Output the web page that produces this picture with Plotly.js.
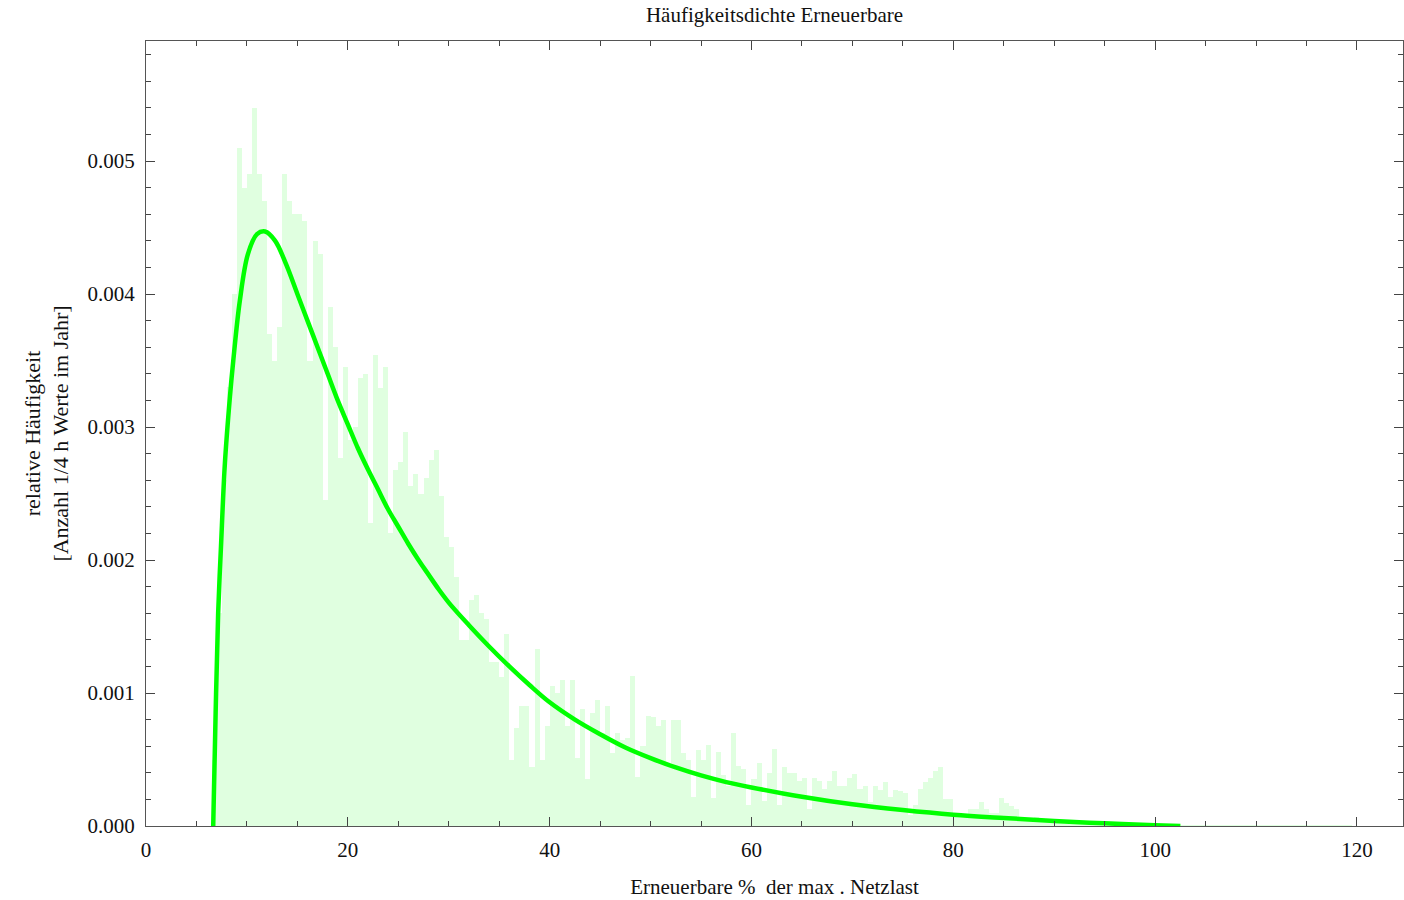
<!DOCTYPE html>
<html><head><meta charset="utf-8">
<script src="https://cdn.plot.ly/plotly-3.0.1.min.js"></script>
<style>html,body{margin:0;padding:0;background:#fff}#chart{width:1404px;height:900px}</style>
</head><body><div id="chart"></div>
<script>
// Histogram: bins start at binStart, each binWidth wide
const binStart = 6.5;
const binWidth = 0.5;
const density = [
  0.0005, 0.0016, 0.0026, 0.0033, 0.0040, 0.0051, 0.0048, 0.0049, 0.0054, 0.0049,
  0.0047, 0.0037, 0.0035, 0.00375, 0.0049, 0.0047, 0.0046, 0.0046, 0.00455, 0.0035,
  0.0044, 0.0043, 0.00245, 0.0039, 0.0036, 0.00277, 0.00345, 0.0029, 0.0030, 0.00337,
  0.0034, 0.00228, 0.00354, 0.00329, 0.00345, 0.0022, 0.00268, 0.00274, 0.00296, 0.00256,
  0.00265, 0.0025, 0.00262, 0.00275, 0.00283, 0.00248, 0.00217, 0.0021, 0.00187, 0.0014,
  0.0014, 0.0017, 0.00174, 0.0016, 0.00156, 0.00123, 0.00123, 0.00112, 0.00144, 0.0005,
  0.00074, 0.0009, 0.0009, 0.00044, 0.00133, 0.0005, 0.00075, 0.00105, 0.001, 0.0011,
  0.00075, 0.0011, 0.00051, 0.00088, 0.00035, 0.00085, 0.00095, 0.0007, 0.0009, 0.00055,
  0.0007, 0.00065, 0.00066, 0.00113, 0.00037, 0.0006, 0.00083, 0.00082, 0.00075, 0.0008,
  0.00045, 0.0008, 0.0008, 0.00055, 0.0005, 0.00022, 0.00057, 0.0005, 0.00061, 0.00021,
  0.00056, 0.00038, 0.0003, 0.0007, 0.00045, 0.00043, 0.00016, 0.00035, 0.00047, 0.00019,
  0.0004, 0.00058, 0.00016, 0.00044, 0.0004, 0.0004, 0.00034, 0.00036, 0.00013, 0.00036,
  0.00034, 0.00028, 0.00034, 0.00041, 0.0003, 0.0003, 0.00036, 0.00039, 0.00028, 0.0003,
  0.00018, 0.0003, 0.00027, 0.00033, 0.00022, 0.00027, 0.00026, 0.00025, 0.00008, 0.00016,
  0.00028, 0.00033, 0.00036, 0.00041, 0.00044, 0.0002, 0.0002, 0.0001, 0.00007, 0.00007,
  0.00013, 0.00013, 0.00018, 0.00013, 0.0001, 0.0001, 0.00021, 0.00017, 0.00015, 0.00013,
  0.00005, 0.00006, 0.00005, 0.00007, 0.00004, 0.00005, 0.00004, 0.00005, 0.00003, 0.00004,
  0.00004, 0.00003, 0.00004, 0.00003, 0.00002, 0.00003, 0.00003, 0.00002, 0.00003, 0.00002,
  0.00002, 0.00002, 0.00002, 0.00001, 0.00002, 0.00002, 0.00001, 0.00002, 0.00001, 0.00001,
  0.00001, 0.00001, 0.00001, 0.00001, 0.00001, 0.00001, 0.00001, 0.00001, 0.00001, 0.00001,
  0.00001, 0.00001, 0.00001, 0.00001, 0.00001, 0.00001, 0.00001, 0.00001, 0.00001, 0.00001,
  0.000008, 0.000008, 0.000008, 0.000008, 0.000008, 0.000008, 0.000008, 0.000008, 0.000008, 0.000008,
  0.000008, 0.000008, 0.000008, 0.000008, 0.000008, 0.000008
];

// Fitted density curve
const fitX = [6.66, 6.9, 7.15, 7.43, 7.82, 8.32, 8.65, 9.3, 10.1, 11.0, 11.8, 12.8, 13.9,
              15.0, 16.0, 17.0, 18.0, 19.0, 20.0, 21.0, 22.0, 23.0, 24.0, 25.0, 26.0, 27.0,
              28.0, 29.0, 30.0, 32.0, 34.0, 36.0, 38.0, 40.0, 42.5, 45.0, 47.5, 50.0, 52.5,
              55.0, 57.5, 60.0, 65.0, 70.0, 75.0, 80.0, 85.0, 90.0, 95.0, 100.0, 102.5];
const fitY = [0, 0.00085, 0.0016, 0.0021, 0.00273, 0.00323, 0.0035, 0.00395, 0.0043, 0.00445, 0.00447,
              0.0044, 0.00422, 0.004, 0.0038, 0.0036, 0.0034, 0.0032, 0.00302, 0.00284, 0.00268,
              0.00253, 0.00238, 0.00225, 0.00212, 0.002, 0.00189, 0.00178, 0.00168, 0.00151, 0.00135,
              0.0012, 0.00106, 0.00093, 0.0008, 0.00069, 0.00059, 0.00051, 0.00044, 0.00038, 0.00033,
              0.00029, 0.00022, 0.000163, 0.00012, 0.000085, 0.00006, 0.000038, 0.00002, 0.000006, 0];

const xTickVals = [0, 20, 40, 60, 80, 100, 120];
const yTickVals = [0, 0.001, 0.002, 0.003, 0.004, 0.005];

const chartTitle = 'Häufigkeitsdichte Erneuerbare';
const xTitle = 'Erneuerbare %  der max . Netzlast';
const yTitle = 'relative Häufigkeit<br>[Anzahl 1/4 h Werte im Jahr]';

const binCenters = density.map((_, i) => binStart + binWidth * (i + 0.5));

const FONT = 'Liberation Serif, Times New Roman, serif';
const axisCommon = {
  showline: true, linecolor: '#555', linewidth: 1, mirror: 'allticks',
  ticks: 'inside', ticklen: 9, tickwidth: 1, tickcolor: '#444',
  showgrid: false, zeroline: false,
  tickfont: {family: FONT, size: 21, color: '#111'}
};

const traces = [
  {
    type: 'bar', x: binCenters, y: density, width: binWidth,
    marker: {color: '#e0ffe0', line: {width: 0}},
    hoverinfo: 'skip', showlegend: false
  },
  {
    type: 'scatter', mode: 'lines', x: fitX, y: fitY,
    line: {color: '#00ff00', width: 4.5, shape: 'spline', smoothing: 1},
    showlegend: false
  }
];

const layout = {
  width: 1404, height: 900,
  margin: {l: 146, r: 1, t: 41, b: 74},
  paper_bgcolor: '#fff', plot_bgcolor: '#fff',
  bargap: 0,
  title: {text: chartTitle, x: 0.5, xref: 'paper', y: 0.984, yanchor: 'middle',
          font: {family: FONT, size: 21, color: '#111'}},
  xaxis: Object.assign({}, axisCommon, {
    range: [0, 124.56], tickvals: xTickVals, ticklabelstandoff: 5,
    minor: {ticks: 'inside', ticklen: 5, dtick: 5, tick0: 0, tickcolor: '#444', showgrid: false},
    title: {text: xTitle, standoff: 18, font: {family: FONT, size: 21, color: '#111'}}
  }),
  yaxis: Object.assign({}, axisCommon, {
    range: [0, 0.0059023], tickvals: yTickVals, tickformat: '.3f', ticklabelstandoff: 6,
    minor: {ticks: 'inside', ticklen: 5, dtick: 0.0002, tick0: 0, tickcolor: '#444', showgrid: false},
    title: {text: yTitle, standoff: 12, font: {family: FONT, size: 22, color: '#111'}}
  })
};

Plotly.newPlot('chart', traces, layout, {displayModeBar: false, staticPlot: true});
</script>
</body></html>
